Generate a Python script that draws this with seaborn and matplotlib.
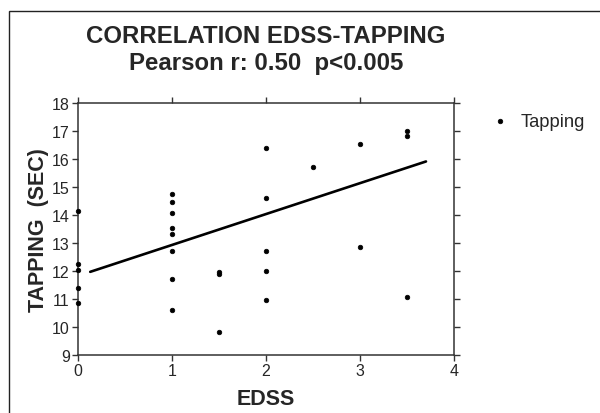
import matplotlib
matplotlib.use("Agg")
import matplotlib.pyplot as plt
import seaborn as sns
import pandas as pd
from matplotlib.patches import Rectangle

# EDSS score for each patient and the matching tapping time (seconds)
edss = [0, 0, 0, 0, 0,
        1, 1, 1, 1, 1, 1, 1, 1,
        1.5, 1.5, 1.5,
        2, 2, 2, 2, 2,
        2.5,
        3, 3,
        3.5, 3.5, 3.5]
tapping = [14.15, 12.25, 12.05, 11.38, 10.85,
           14.75, 14.48, 14.06, 13.52, 13.31, 12.73, 11.70, 10.62,
           11.96, 11.88, 9.83,
           16.40, 14.61, 12.73, 12.01, 10.96,
           15.73,
           16.55, 12.87,
           17.00, 16.83, 11.06]

# Fitted trend line end points
fit_x = [0.13, 3.70]
fit_y = [11.97, 15.91]

x_ticks = [0, 1, 2, 3, 4]
y_ticks = [9, 10, 11, 12, 13, 14, 15, 16, 17, 18]

title_lines = ["CORRELATION EDSS-TAPPING", "Pearson r: 0.50  p<0.005"]

sns.set_theme(style="ticks")
plt.rcParams["font.family"] = ["Liberation Sans", "DejaVu Sans"]

df = pd.DataFrame({"EDSS": edss, "Tapping": tapping})
fit = pd.DataFrame({"x": fit_x, "y": fit_y})

fig = plt.figure(figsize=(6.0, 4.14), dpi=100)
ax = fig.add_axes([0.130, 0.140, 0.627, 0.609])

sns.scatterplot(data=df, x="EDSS", y="Tapping", ax=ax, color="black",
                marker="o", s=11, edgecolor="black", linewidth=0.5,
                label="Tapping", clip_on=False, zorder=3)
sns.lineplot(data=fit, x="x", y="y", ax=ax, color="black", linewidth=1.9,
             legend=False)

ax.set_xlim(0, 4)
ax.set_ylim(9, 18)
ax.set_xticks(x_ticks)
ax.set_yticks(y_ticks)
ax.tick_params(axis="both", direction="out", length=4, width=1.0,
               color="#333333", labelsize=11.5, pad=2,
               top=True, right=True, labeltop=False, labelright=False)
for sp in ax.spines.values():
    sp.set_visible(True)
    sp.set_color("#333333")
    sp.set_linewidth(1.1)

ax.set_xlabel("EDSS", fontsize=15.5, fontweight="bold", labelpad=7)
ax.set_ylabel("TAPPING  (SEC)", fontsize=15.5, fontweight="bold", labelpad=2)

fig.text(0.443, 0.895, title_lines[0], ha="center", va="baseline",
         fontsize=17.3, fontweight="bold")
fig.text(0.443, 0.832, title_lines[1], ha="center", va="baseline",
         fontsize=17.3, fontweight="bold")

leg = ax.legend(loc="center left", bbox_to_anchor=(0.802, 0.705),
                bbox_transform=fig.transFigure, frameon=False,
                fontsize=13.2, handletextpad=0.55, markerscale=1.0,
                handlelength=1.2, borderaxespad=0)

# Frame lines along the upper and left edges of the canvas
fig.patches.append(Rectangle((9 / 600, -0.1), 1.2, 0.1 + (414 - 12) / 414,
                             transform=fig.transFigure, fill=False,
                             edgecolor="#222222", linewidth=1.0))

fig.savefig("out.png", dpi=100)
